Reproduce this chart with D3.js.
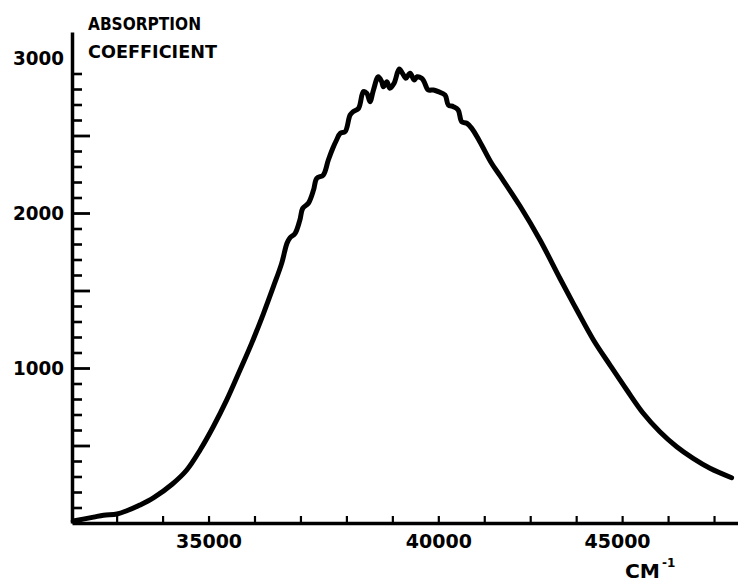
<!DOCTYPE html>
<html>
<head>
<meta charset="utf-8">
<script src="https://cdn.jsdelivr.net/npm/d3@7"></script>
<style>
  body { margin: 0; background: #fff; }
  svg { display: block; }
  text { font-family: "DejaVu Sans", sans-serif; font-weight: bold; fill: #000; }
</style>
</head>
<body>
<svg id="chart" width="738" height="583"></svg>
<script>
// spectrum (cm-1, absorption coefficient)
const wavenumbers = [
  32600, 32940, 33110, 33340, 33510, 33740, 33980, 34320, 34590, 34840, 35090, 35350, 35610,
  35840, 36080, 36280, 36450, 36560, 36620, 36730, 36830, 36890, 37010, 37120, 37190, 37330,
  37440, 37540, 37620, 37700, 37810, 37920, 37990, 38110, 38220, 38300, 38370, 38450, 38560,
  38640, 38680, 38760, 38830, 38930, 39050, 39130, 39210, 39310, 39410, 39480, 39590, 39650,
  39750, 39880, 40000, 40170, 40250, 40380, 40500, 40590, 40720, 40850, 41060, 41370, 41600,
  42140, 42700, 43270, 43770, 44270, 44780, 45310, 45840, 46390, 46960, 47530, 48130, 48920
];
const absorption = [
  13, 38, 50, 58, 79, 116, 162, 250, 342, 471, 621, 794, 987,
  1159, 1353, 1525, 1675, 1805, 1839, 1869, 1955, 2030, 2063, 2148, 2224, 2245,
  2342, 2419, 2471, 2514, 2525, 2632, 2654, 2675, 2783, 2772, 2718, 2794, 2879,
  2847, 2815, 2847, 2805, 2837, 2929, 2901, 2869, 2901, 2858, 2879, 2869, 2847,
  2794, 2794, 2783, 2761, 2697, 2686, 2665, 2589, 2579, 2546, 2460, 2321, 2239,
  2045, 1826, 1579, 1374, 1181, 1019, 858, 708, 589, 492, 417, 353, 292
];

const xLabels = [35000, 40000, 45000];
const yLabels = [1000, 2000, 3000];
const yMajorTicks = [500, 1000, 1500, 2000, 2500];
const yMinorTicks = d3.range(100, 3000, 100).filter(v => v % 500 !== 0);
// the original axis is evenly ruled in wavelength, not wavenumber
const xTickIndex = d3.range(29, 43);
const xTickStepNm = 50 / 7;

const data = wavenumbers.map((wn, i) => ({ wn: wn, a: absorption[i] }));
const toNm = wn => 1e7 / wn;

const svg = d3.select("#chart");

const x = d3.scaleLinear()
  .domain([toNm(32580), toNm(49160)])
  .range([72, 738]);

const y = d3.scaleLinear()
  .domain([0, 3000])
  .range([523, 58]);

// y axis runs a little above 3000
const yAxisScale = y.copy().domain([0, 3168]).range([y(0), y(3168)]);

const style = g => {
  g.attr("font-family", null).attr("font-size", null);
  g.select(".domain").attr("stroke", "#000").attr("stroke-width", 3.5);
  g.selectAll(".tick line").attr("stroke", "#000");
};

// x axis
svg.append("g")
  .attr("transform", "translate(0," + y(0) + ")")
  .call(d3.axisBottom(x)
    .tickValues(xTickIndex.map(n => n * xTickStepNm))
    .tickSize(-7)
    .tickSizeOuter(0)
    .tickFormat(""))
  .call(style)
  .call(g => g.selectAll(".tick line").attr("stroke-width", 2.2));

svg.append("g")
  .attr("transform", "translate(0," + y(0) + ")")
  .call(d3.axisBottom(x)
    .tickValues(xLabels.map(toNm))
    .tickSize(0)
    .tickPadding(12)
    .tickFormat(d => Math.round(1e7 / d)))
  .call(style)
  .call(g => g.select(".domain").remove())
  .call(g => g.selectAll("text").style("font-size", "19px"));

// y axis
svg.append("g")
  .attr("transform", "translate(" + x.range()[0] + ",0)")
  .call(d3.axisLeft(yAxisScale)
    .tickValues(yMinorTicks)
    .tickSize(-10)
    .tickSizeOuter(0)
    .tickFormat(""))
  .call(style)
  .call(g => g.selectAll(".tick line").attr("stroke-width", 2.6));

svg.append("g")
  .attr("transform", "translate(" + x.range()[0] + ",0)")
  .call(d3.axisLeft(yAxisScale)
    .tickValues(yMajorTicks)
    .tickSize(-18)
    .tickFormat(""))
  .call(style)
  .call(g => g.select(".domain").remove())
  .call(g => g.selectAll(".tick line").attr("stroke-width", 2.8));

svg.append("g")
  .attr("transform", "translate(" + x.range()[0] + ",0)")
  .call(d3.axisLeft(yAxisScale)
    .tickValues(yLabels)
    .tickSize(0)
    .tickPadding(8)
    .tickFormat(d3.format("d")))
  .call(style)
  .call(g => g.select(".domain").remove())
  .call(g => g.selectAll("text")
    .style("font-size", "19px")
    .attr("textLength", 51)
    .attr("lengthAdjust", "spacingAndGlyphs"));

// curve
const line = d3.line()
  .x(d => x(toNm(d.wn)))
  .y(d => y(d.a))
  .curve(d3.curveCatmullRom.alpha(0.5));

svg.append("path")
  .datum(data)
  .attr("d", line)
  .attr("fill", "none")
  .attr("stroke", "#000")
  .attr("stroke-width", 5)
  .attr("stroke-linejoin", "round")
  .attr("stroke-linecap", "round");

// axis titles
svg.append("text")
  .attr("x", 88).attr("y", 30)
  .style("font-size", "17px")
  .attr("textLength", 113)
  .attr("lengthAdjust", "spacingAndGlyphs")
  .text("ABSORPTION");

svg.append("text")
  .attr("x", 88).attr("y", 58)
  .style("font-size", "17px")
  .attr("textLength", 129)
  .attr("lengthAdjust", "spacingAndGlyphs")
  .text("COEFFICIENT");

const unit = svg.append("text")
  .attr("x", 625).attr("y", 578)
  .style("font-size", "19px");
unit.append("tspan")
  .attr("textLength", 35)
  .attr("lengthAdjust", "spacingAndGlyphs")
  .text("CM");
unit.append("tspan")
  .attr("dx", 2).attr("dy", -11)
  .style("font-size", "12px")
  .text("-1");
</script>
</body>
</html>
